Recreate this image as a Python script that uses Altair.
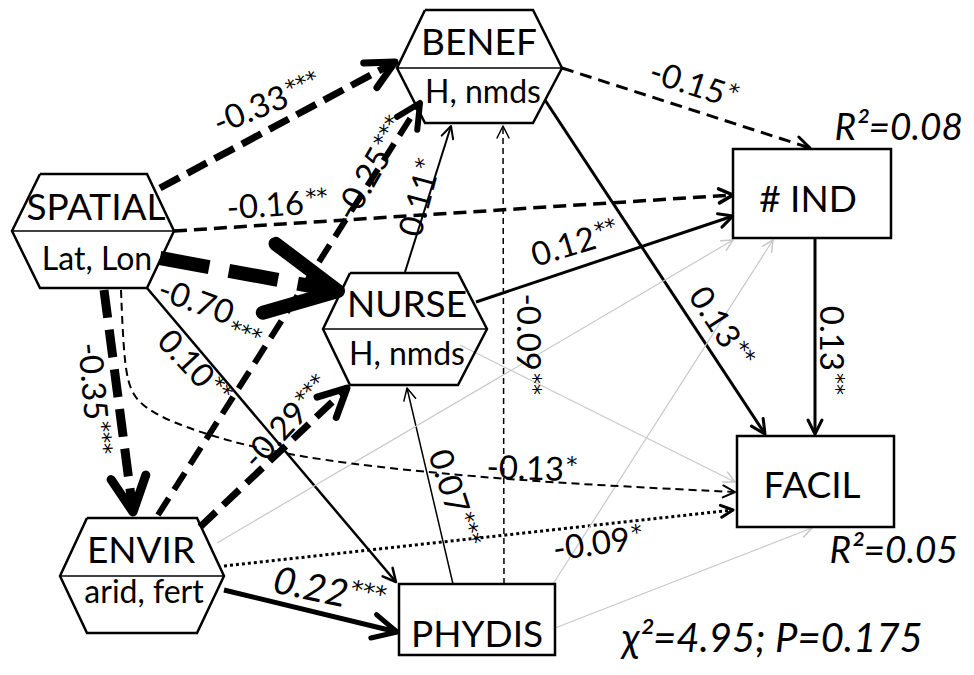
import math
import altair as alt
import pandas as pd

# ---------------- nodes ----------------
hex_nodes = ["BENEF", "SPATIAL", "NURSE", "ENVIR"]
hex_sub = ["H, nmds", "Lat, Lon", "H, nmds", "arid, fert"]
hex_left = [397, 12, 323, 60]
hex_in_left = [425, 40, 350, 87]
hex_in_right = [533, 147, 458, 197]
hex_right = [562, 174, 487, 224]
hex_top = [10, 174, 273, 518]
hex_mid = [68, 231, 329, 576]
hex_bottom = [123, 288, 385, 633]
hex_label_x = [479, 96, 407, 141]
hex_label_y = [55, 220, 317, 563]
hex_sub_x = [483, 97, 407, 144]
hex_sub_y = [103, 270, 365, 603]

box_nodes = ["PHYDIS", "# IND", "FACIL"]
box_x1 = [399, 733, 737]
box_x2 = [555, 891, 894]
box_y1 = [584, 149, 436]
box_y2 = [655, 238, 527]
box_label_x = [477, 808, 812]
box_label_y = [647, 212, 498]

# ---------------- paths (straight) ----------------
path_from = ["SPATIAL", "SPATIAL", "SPATIAL", "SPATIAL", "SPATIAL", "ENVIR", "ENVIR",
             "ENVIR", "ENVIR", "NURSE", "NURSE", "BENEF", "BENEF", "# IND", "PHYDIS",
             "PHYDIS", "ENVIR", "NURSE", "PHYDIS", "PHYDIS"]
path_to = ["BENEF", "# IND", "NURSE", "ENVIR", "PHYDIS", "BENEF", "NURSE",
           "PHYDIS", "FACIL", "BENEF", "# IND", "# IND", "FACIL", "FACIL", "NURSE",
           "BENEF", "# IND", "FACIL", "# IND", "FACIL"]
path_coef = ["-0.33", "-0.16", "-0.70", "-0.35", "0.10", "-0.25", "-0.29",
             "0.22", "-0.09", "0.11", "0.12", "-0.15", "0.13", "0.13", "0.07",
             "-0.09", "", "", "", ""]
path_sig = ["***", "**", "***", "***", "**", "***", "***",
            "***", "*", "*", "**", "*", "**", "**", "***",
            "**", "", "", "", ""]
path_x1 = [160, 174, 160, 104, 147, 158, 200, 224, 224, 405, 476, 562, 545, 815, 453, 504, 217, 460, 553, 555]
path_y1 = [188, 231, 258, 290, 288, 515, 527, 590, 566, 272, 302, 68, 100, 238, 584, 584, 543, 345, 584, 628]
path_x2 = [395, 733, 338, 133, 396, 420, 347, 397, 733, 451, 733, 810, 765, 815, 407, 503, 733, 735, 773, 812]
path_y2 = [62, 195, 291, 512, 582, 103, 388, 632, 510, 126, 216, 148, 434, 434, 388, 126, 240, 482, 240, 528]

# curved path SPATIAL -> FACIL
curve_coef = "-0.13"
curve_sig = "*"
curve_x = [121, 123, 127, 140, 170, 230, 300, 400, 550, 735]
curve_y = [290, 340, 385, 405, 422, 442, 457, 470, 483, 492]

# coefficient label anchors (end of the number) and rotation
label_x = [288, 305, 233, 95, 208, 384, 303, 348, 631, 428, 596, 725, 732, 830, 458, 527]
label_y = [96, 204, 316, 421, 384, 150, 407, 597, 540, 172, 238, 96, 346, 372, 514, 372]
label_angle = [-22, -4, 20, 85, 47, -60, -47, 12, -8, -75, -17, 18, 57, 90, 72, 90]
curve_label = (565, 471, 2)

# ---------------- styles ----------------
BLACK, GREY = "#000000", "#c8c8c8"
path_width = [7, 3.5, 14, 9, 2.5, 6, 7, 5, 3, 2, 3, 3, 3, 3, 1.5, 1.5, 1.2, 1.2, 1.2, 1.2]
path_dash = [[22, 9], [13, 7], [50, 20], [28, 12], None, [20, 10], [22, 10], None, [3, 3],
             None, None, [12, 7], None, None, None, [6, 4], None, None, None, None]
path_color = [BLACK] * 16 + [GREY] * 4
arrow_len = [28, 14, 70, 35, 13, 24, 28, 24, 12, 12, 14, 14, 14, 14, 12, 12, 11, 11, 11, 11]

W, H = 958, 659
xs = alt.Scale(domain=[8, 966], nice=False, zero=False)
ys = alt.Scale(domain=[8, 667], nice=False, zero=False, reverse=True)


def ex(f):
    return alt.X(f, type="quantitative", scale=xs, axis=None)


def ey(f):
    return alt.Y(f, type="quantitative", scale=ys, axis=None)


layers = []

# straight path lines
for i in range(len(path_from)):
    d = pd.DataFrame({"x1": [path_x1[i]], "y1": [path_y1[i]], "x2": [path_x2[i]], "y2": [path_y2[i]],
                      "from": [path_from[i]], "to": [path_to[i]]})
    kw = dict(strokeWidth=path_width[i], color=path_color[i], strokeCap="butt")
    if path_dash[i] is not None:
        kw["strokeDash"] = path_dash[i]
    layers.append(alt.Chart(d).mark_rule(**kw).encode(
        x=ex("x1"), y=ey("y1"), x2=alt.X2("x2"), y2=alt.Y2("y2")))

# curved path
curve_df = pd.DataFrame({"x": curve_x, "y": curve_y, "i": list(range(len(curve_x)))})
layers.append(alt.Chart(curve_df).mark_line(
    interpolate="basis", strokeWidth=2, strokeDash=[8, 5], color=BLACK).encode(
    x=ex("x"), y=ey("y"), order="i:Q"))

# arrow heads
ah_x, ah_y, ah_ang, ah_size, ah_sw, ah_col = [], [], [], [], [], []
for i in range(len(path_from)):
    ang = math.degrees(math.atan2(path_y2[i] - path_y1[i], path_x2[i] - path_x1[i])) % 360
    ah_x.append(path_x2[i]); ah_y.append(path_y2[i]); ah_ang.append(ang)
    ah_size.append((2 * arrow_len[i]) ** 2)
    ah_sw.append(max(path_width[i], 1.5)); ah_col.append(path_color[i])
ang = math.degrees(math.atan2(curve_y[-1] - curve_y[-2], curve_x[-1] - curve_x[-2])) % 360
ah_x.append(curve_x[-1]); ah_y.append(curve_y[-1]); ah_ang.append(ang)
ah_size.append((2 * 12) ** 2); ah_sw.append(2); ah_col.append(BLACK)
arrow_df = pd.DataFrame({"x": ah_x, "y": ah_y, "ang": ah_ang, "size": ah_size, "sw": ah_sw, "col": ah_col})
layers.append(alt.Chart(arrow_df).mark_point(
    shape="M-1,-0.5L0,0L-1,0.5", filled=False, opacity=1, strokeCap="round", strokeJoin="round").encode(
    x=ex("x"), y=ey("y"),
    angle=alt.Angle("ang:Q", scale=None),
    size=alt.Size("size:Q", scale=None),
    strokeWidth=alt.StrokeWidth("sw:Q", scale=None),
    color=alt.Color("col:N", scale=None)))

# hexagons
hx, hy, hn, hi = [], [], [], []
for k, n in enumerate(hex_nodes):
    pts = [(hex_in_left[k], hex_top[k]), (hex_in_right[k], hex_top[k]), (hex_right[k], hex_mid[k]),
           (hex_in_right[k], hex_bottom[k]), (hex_in_left[k], hex_bottom[k]), (hex_left[k], hex_mid[k]),
           (hex_in_left[k], hex_top[k])]
    for j, (px, py) in enumerate(pts):
        hx.append(px); hy.append(py); hn.append(n); hi.append(j)
hex_df = pd.DataFrame({"x": hx, "y": hy, "node": hn, "i": hi})
layers.append(alt.Chart(hex_df).mark_line(color=BLACK, strokeWidth=2.5, strokeJoin="miter").encode(
    x=ex("x"), y=ey("y"), order="i:Q", detail="node:N"))
mid_df = pd.DataFrame({"x1": hex_left, "x2": hex_right, "y": hex_mid, "node": hex_nodes})
layers.append(alt.Chart(mid_df).mark_rule(color=BLACK, strokeWidth=1.5).encode(
    x=ex("x1"), x2=alt.X2("x2"), y=ey("y")))

# boxes
box_df = pd.DataFrame({"x1": box_x1, "x2": box_x2, "y1": box_y1, "y2": box_y2, "node": box_nodes})
layers.append(alt.Chart(box_df).mark_rect(fill="white", stroke=BLACK, strokeWidth=2.5).encode(
    x=ex("x1"), x2=alt.X2("x2"), y=ey("y1"), y2=alt.Y2("y2")))

# node labels
nl_df = pd.DataFrame({"x": hex_label_x + box_label_x, "y": hex_label_y + box_label_y,
                      "t": hex_nodes + box_nodes})
layers.append(alt.Chart(nl_df).mark_text(font="Lato", fontSize=37, align="center",
                                          baseline="alphabetic", color=BLACK).encode(
    x=ex("x"), y=ey("y"), text="t:N"))
sub_df = pd.DataFrame({"x": hex_sub_x, "y": hex_sub_y, "t": hex_sub})
layers.append(alt.Chart(sub_df).mark_text(font="Lato", fontSize=32, align="center",
                                           baseline="alphabetic", color=BLACK).encode(
    x=ex("x"), y=ey("y"), text="t:N"))

# coefficient labels
lab_rows = []
for i in range(len(label_x)):
    lab_rows.append({"x": label_x[i], "y": label_y[i], "ang": label_angle[i] % 360,
                     "coef": path_coef[i], "sig": path_sig[i],
                     "kind": "big" if path_coef[i] == "0.22" else ("low" if path_coef[i] == "-0.70" else "sup")})
lab_rows.append({"x": curve_label[0], "y": curve_label[1], "ang": curve_label[2] % 360,
                 "coef": curve_coef, "sig": curve_sig, "kind": "sup"})
lab_df = pd.DataFrame(lab_rows)

norm = lab_df[lab_df.kind != "big"]
big = lab_df[lab_df.kind == "big"]
sup = lab_df[lab_df.kind == "sup"]
low = lab_df[lab_df.kind == "low"]


def num_layer(df, size, style):
    return alt.Chart(df).mark_text(font="Lato", fontSize=size, fontStyle=style, align="right",
                                   baseline="middle", dx=-1, color=BLACK).encode(
        x=ex("x"), y=ey("y"), text="coef:N", angle=alt.Angle("ang:Q", scale=None))


def sig_layer(df, dy, size=22):
    return alt.Chart(df).mark_text(font="DejaVu Sans", fontSize=size, align="left",
                                   baseline="middle", dx=1, dy=dy, color=BLACK).encode(
        x=ex("x"), y=ey("y"), text="sig:N", angle=alt.Angle("ang:Q", scale=None))


layers.append(num_layer(norm, 33, "normal"))
layers.append(num_layer(big, 38, "italic"))
layers.append(sig_layer(sup, -6))
layers.append(sig_layer(low, 12))
layers.append(sig_layer(big, -8, 24))

# fit statistics
r2_text = ["R²=0.08", "R²=0.05"]
r2_x = [963, 958]
r2_y = [140, 563]
r2_df = pd.DataFrame({"x": r2_x, "y": r2_y, "t": r2_text})
layers.append(alt.Chart(r2_df).mark_text(font="Lato", fontSize=37, fontStyle="italic", align="right",
                                          baseline="alphabetic", color=BLACK).encode(
    x=ex("x"), y=ey("y"), text="t:N"))
fit_df = pd.DataFrame({"x": [622], "y": [652], "t": ["χ²=4.95; P=0.175"]})
layers.append(alt.Chart(fit_df).mark_text(font="Lato", fontSize=40, fontStyle="italic", align="left",
                                           baseline="alphabetic", color=BLACK).encode(
    x=ex("x"), y=ey("y"), text="t:N"))

chart = alt.layer(*layers).properties(
    width=W, height=H, padding=0, background="white",
    autosize=alt.AutoSizeParams(type="none")
).configure_view(strokeWidth=0)

chart.save("out.html", embed_options={"renderer": "svg", "actions": False})
